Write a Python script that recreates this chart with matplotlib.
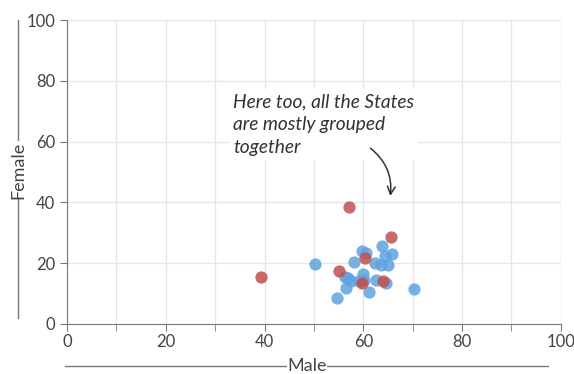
import matplotlib

matplotlib.use("Agg")
import matplotlib.pyplot as plt
from matplotlib.lines import Line2D

# Male vs female share per state
blue_male = [50.2, 54.7, 56.6, 57.0, 57.6, 58.1, 59.7, 60.5, 59.9, 61.1, 62.4, 63.8, 65.8, 64.4, 65.0, 63.5, 62.6, 64.7, 70.2, 59.2, 56.4, 60.1]
blue_female = [19.9, 8.6, 12.0, 15.0, 14.2, 20.4, 24.0, 23.2, 16.5, 10.5, 20.2, 25.7, 23.1, 22.3, 19.3, 19.4, 14.6, 13.6, 11.4, 14.0, 15.3, 14.6]
red_male = [39.3, 55.1, 57.1, 60.3, 59.8, 63.9, 65.6]
red_female = [15.5, 17.4, 38.5, 21.6, 13.4, 14.1, 28.5]

note = "Here too, all the States\nare mostly grouped\ntogether"

plt.rcParams["font.family"] = ["Lato", "DejaVu Sans"]

fig = plt.figure(figsize=(5.74, 3.74), dpi=100)
ax = fig.add_axes([0.1167, 0.1337, 0.8603, 0.8128])

ax.scatter(blue_male, blue_female, s=78, color="#5fa2dd", alpha=0.85, linewidths=0, zorder=3)
ax.scatter(red_male, red_female, s=78, color="#c0504d", alpha=0.85, linewidths=0, zorder=3)

ax.set_xlim(0, 100)
ax.set_ylim(0, 100)
ax.set_xticks(range(0, 101, 20))
ax.set_xticks(range(10, 100, 20), minor=True)
ax.set_yticks(range(0, 101, 20))
ax.grid(True, which="both", axis="x", color="#e6e6e6", linewidth=1, zorder=0)
ax.grid(True, which="major", axis="y", color="#e6e6e6", linewidth=1, zorder=0)
ax.set_axisbelow(True)

for side in ["top", "right"]:
    ax.spines[side].set_visible(False)
for side in ["left", "bottom"]:
    ax.spines[side].set_color("#777777")
ax.tick_params(colors="#777777", labelcolor="#444444", labelsize=12, length=5, which="both")
ax.tick_params(axis="x", pad=2)

# annotation with white backing
ax.text(33.6, 75.8, note, fontsize=13.8, style="italic", color="#333333",
        va="top", ha="left", linespacing=1.4, zorder=4,
        bbox=dict(facecolor="white", edgecolor="none", pad=3))
ax.annotate("", xy=(65.4, 41.2), xytext=(61.0, 58.4),
            arrowprops=dict(arrowstyle="->", color="#333333", lw=1.1,
                            connectionstyle="arc3,rad=-0.3", mutation_scale=14),
            zorder=5)

# axis titles drawn over thin rule lines
fig.add_artist(Line2D([18 / 574, 18 / 574], [1 - 20 / 374, 1 - 318 / 374], color="#777777", lw=1))
fig.text(18 / 574, 1 - 170 / 374, "Female", rotation=90, ha="center", va="center", fontsize=13,
         color="#444444", bbox=dict(facecolor="white", edgecolor="none", pad=0.5))
fig.add_artist(Line2D([65 / 574, 548 / 574], [1 - 366 / 374, 1 - 366 / 374], color="#777777", lw=1))
fig.text(307 / 574, 1 - 366 / 374, "Male", ha="center", va="center", fontsize=13,
         color="#444444", bbox=dict(facecolor="white", edgecolor="none", pad=0.5))

fig.savefig("out.png", dpi=100)
plt.close(fig)
